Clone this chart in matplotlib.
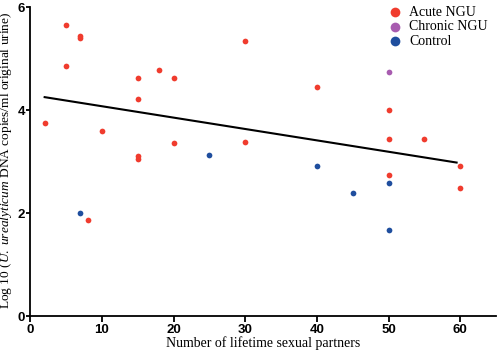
import matplotlib
matplotlib.use("Agg")
from matplotlib import pyplot as plt

plt.rcParams['mathtext.fontset'] = 'custom'
plt.rcParams['mathtext.rm'] = 'Liberation Serif'
plt.rcParams['mathtext.it'] = 'Liberation Serif:italic'

# data
acute_x = [2, 5, 5, 7, 7, 10, 15, 15, 15, 15, 18, 20, 20, 30, 30, 40, 50, 50, 55, 60, 50, 60, 8]
acute_y = [3.74, 5.66, 4.85, 5.40, 5.43, 3.59, 4.63, 4.21, 3.11, 3.05, 4.77, 4.63, 3.36, 5.34, 3.38,
           4.45, 4.00, 3.44, 3.44, 2.91, 2.74, 2.48, 1.86]
chronic_x = [50]
chronic_y = [4.74]
control_x = [25, 40, 45, 50, 50, 7]
control_y = [3.12, 2.92, 2.39, 2.58, 1.68, 2.00]
fit_x = [2, 59.5]
fit_y = [4.25, 2.98]

xticks = [0, 10, 20, 30, 40, 50, 60]
yticks = [0, 2, 4, 6]

fig = plt.figure(figsize=(4.97, 3.5), dpi=100)
ax = fig.add_axes([0.061, 0.097, 0.937, 0.883])

ax.plot(fit_x, fit_y, color='black', lw=1.5, zorder=2)
ax.scatter(acute_x, acute_y, s=17, color='#f03c2e', label='Acute NGU', zorder=3, linewidths=0)
ax.scatter(chronic_x, chronic_y, s=17, color='#a85cb0', label='Chronic NGU', zorder=3, linewidths=0)
ax.scatter(control_x, control_y, s=17, color='#1f4e9e', label='Control', zorder=3, linewidths=0)

ax.set_xlim(0, 65)
ax.set_ylim(0, 6)
ax.set_xticks(xticks)
ax.set_yticks(yticks)
for s in ['top', 'right']:
    ax.spines[s].set_visible(False)
for s in ['left', 'bottom']:
    ax.spines[s].set_linewidth(1.3)
ax.tick_params(axis='x', length=4, width=1.3, pad=2)
ax.tick_params(axis='y', length=3, width=1.3, pad=1)
for lab in ax.get_xticklabels() + ax.get_yticklabels():
    lab.set_fontfamily('Liberation Sans')
    lab.set_fontweight('bold')
    lab.set_fontsize(9.5)

ax.set_xlabel('Number of lifetime sexual partners', fontfamily='Liberation Serif', fontsize=10, labelpad=0)
ax.set_ylabel(r'Log 10 ($\mathit{U.\ urealyticum}$ DNA copies/ml original urine)',
              fontfamily='Liberation Serif', fontsize=9.6)
ax.yaxis.set_label_coords(-0.034, 0.505)

leg = ax.legend(loc='upper right', bbox_to_anchor=(1.0, 1.03), frameon=False,
                prop={'family': 'Liberation Serif', 'size': 10},
                handletextpad=0.0, labelspacing=0.1, borderaxespad=0.2, markerscale=1.7)

fig.savefig('out.png', dpi=100)
